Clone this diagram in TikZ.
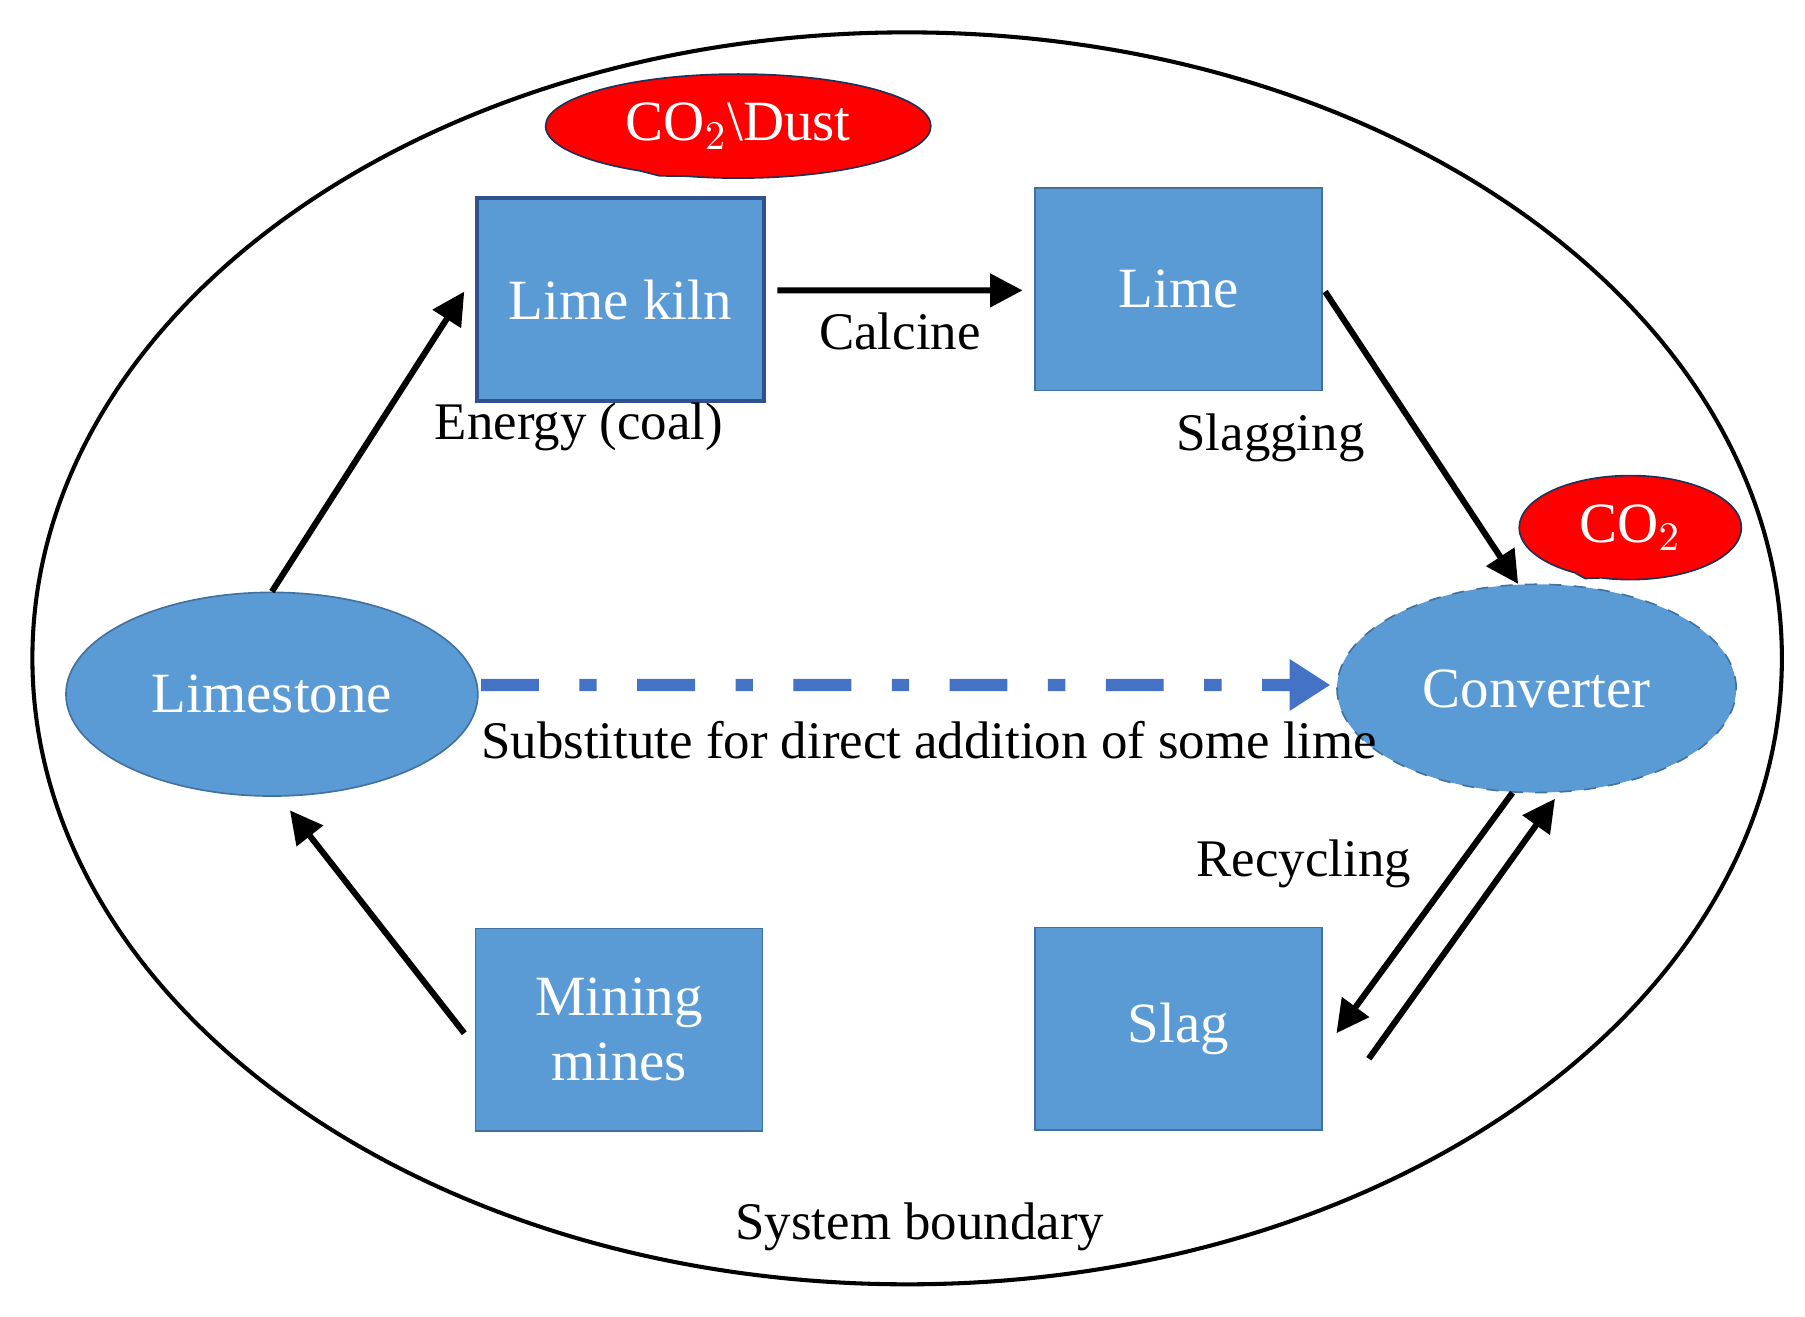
\documentclass[tikz,border=0pt]{standalone}
\usepackage{fontspec}
\setmainfont{Liberation Serif}
\usetikzlibrary{shapes.geometric, shapes.callouts, arrows.meta, positioning, calc}
\definecolor{boxblue}{HTML}{5B9BD5}
\definecolor{edgeblue}{HTML}{41719C}
\definecolor{darkblue}{HTML}{2F528F}
\definecolor{dashblue}{HTML}{4472C4}

\begin{document}
\begin{tikzpicture}[
    % Node styles
    unit/.style={rectangle, draw=edgeblue, fill=boxblue, minimum width=2.48cm, minimum height=1.75cm, align=center, text=white, font=\fontsize{14}{16}\selectfont},
    pile/.style={ellipse, draw=edgeblue, fill=boxblue, align=center, text=white, font=\fontsize{14}{16}\selectfont},
    emit/.style={ellipse callout, draw=darkblue!60!black, fill=red, text=white, font=\fontsize{14}{16}\selectfont},
    lbl/.style={font=\fontsize{13}{15}\selectfont},
    arrow/.style={-{Triangle[length=8pt,width=8pt]}, line width=1.5pt},
]
\useasboundingbox (0,0) rectangle (15.6,11.38);

% System boundary
\node[ellipse, draw, line width=1pt, minimum width=15.12cm, minimum height=10.82cm] (boundary) at (7.84,5.69) {};
\node[lbl] (sysb) at (7.95,0.78) {System boundary};

% Units
\node[unit, draw=darkblue, line width=1pt] (kiln) at (5.36,8.79) {Lime kiln};
\node[unit] (lime) at (10.185,8.88) {Lime};
\node[unit] (mines) at (5.35,2.48) {Mining\\mines};
\node[unit] (slag) at (10.185,2.49) {Slag};

% Limestone and converter
\node[pile, minimum width=3.56cm, minimum height=1.76cm] (limestone) at (2.35,5.38) {Limestone};
\node[pile, dashed, minimum width=3.45cm, minimum height=1.8cm] (converter) at (13.28,5.43) {Converter};

% Emissions
\node[emit, minimum width=3.33cm, minimum height=0.68cm, callout absolute pointer={(5.70,9.86)}] (dust) at (6.38,10.29) {CO$_2$\textbackslash Dust};
\node[emit, minimum width=1.92cm, minimum height=0.73cm, callout absolute pointer={(13.70,6.38)}] (co2) at (14.09,6.82) {CO$_2$};

% Flows
\draw[arrow] (limestone.north) -- ([xshift=-0.09cm,yshift=0.07cm]kiln.west) node[pos=0.55, right=0.35cm, lbl] {Energy (coal)};
\draw[arrow] ([xshift=0.1cm,yshift=0.08cm]kiln.east) -- ([xshift=-0.1cm,yshift=-0.01cm]lime.west) node[midway, below=0.05cm, lbl] {Calcine};
\draw[arrow] ([xshift=0.02cm,yshift=-0.02cm]lime.east) -- (converter.100) node[midway, left=0.35cm, lbl] {Slagging};
\draw[arrow] ([xshift=-0.09cm,yshift=-0.03cm]mines.west) -- ([yshift=-0.12cm]limestone.-80);
\coordinate (slagin) at (11.55,2.45);
\coordinate (slagout) at (11.83,2.23);
\draw[arrow] (converter.-103) -- (slagin);
\draw[arrow] (slagout) -- ([yshift=-0.05cm]converter.-80) node[pos=0.75, left=0.7cm, lbl] {Recycling};

% Direct substitution
\draw[-{Triangle[length=10pt,width=12pt]}, dashblue, line width=3pt, dash pattern=on 0.5cm off 0.35cm on 0.15cm off 0.35cm] ([xshift=0.02cm,yshift=0.08cm]limestone.east) -- ([xshift=-0.05cm,yshift=0.03cm]converter.west);
\node[lbl] (subst) at (8.03,4.98) {Substitute for direct addition of some lime};

\end{tikzpicture}
\end{document}
